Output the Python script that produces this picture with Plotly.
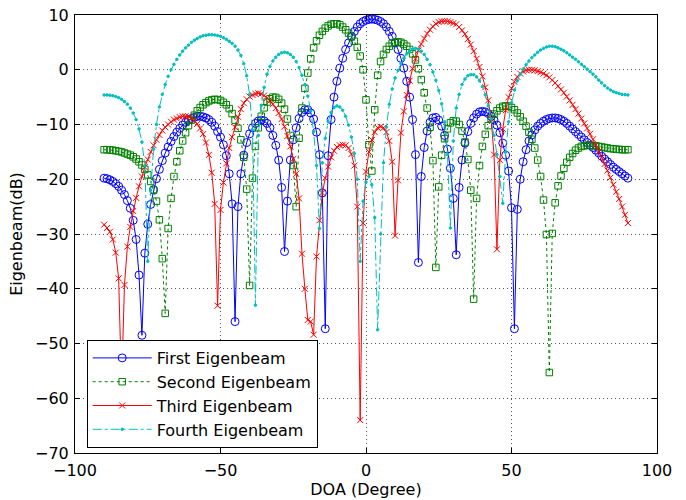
import plotly.graph_objects as go

doa = list(range(-90, 91))

first_eigenbeam = [
    -19.8, -19.9, -20.1, -20.4, -20.8, -21.3, -22.0, -22.8, -23.9, -25.3,
    -27.5, -31.0, -37.5, -48.5, -33.5, -28.2, -24.6, -21.9, -19.9, -18.2,
    -16.6, -15.2, -14.1, -13.1, -12.2, -11.4, -10.7, -10.1, -9.6, -9.2,
    -8.9, -8.7, -8.5, -8.5, -8.6, -8.8, -9.1, -9.6, -10.3, -11.3,
    -12.3, -13.7, -15.7, -19.0, -24.5, -46.0, -25.0, -19.0, -15.6, -13.3,
    -11.7, -10.6, -9.8, -9.35, -9.2, -9.35, -9.8, -10.6, -12.0, -13.8,
    -16.5, -21.5, -33.2, -24.0, -16.5, -12.8, -10.6, -8.9, -7.8, -7.3,
    -7.3, -7.9, -9.0, -11.4, -15.5, -22.5, -47.3, -15.7, -9.1, -5.0,
    -2.1, 0.3, 2.1, 3.7, 4.9, 6.1, 7.0, 7.8, 8.4, 8.8,
    9.05, 9.2, 9.25, 9.2, 9.05, 8.8, 8.4, 7.8, 7.0, 6.1,
    4.9, 3.7, 2.1, 0.3, -2.1, -5.0, -9.1, -15.5, -35.2, -19.5,
    -14.2, -11.2, -9.6, -8.8, -8.7, -9.2, -10.3, -12.0, -14.5, -18.0,
    -23.5, -33.8, -21.5, -16.5, -13.4, -11.3, -9.8, -8.8, -8.1, -7.7,
    -7.6, -7.7, -8.0, -8.5, -9.2, -10.1, -11.5, -13.4, -15.6, -18.5,
    -25.2, -47.3, -25.5, -20.0, -16.8, -14.6, -13.0, -11.9, -11.0, -10.3,
    -9.8, -9.4, -9.1, -8.9, -8.8, -8.8, -8.9, -9.1, -9.4, -9.8,
    -10.3, -10.8, -11.3, -11.8, -12.3, -12.8, -13.3, -13.8, -14.2, -14.7,
    -15.2, -15.8, -16.3, -16.8, -17.3, -17.8, -18.2, -18.6, -19.0, -19.4,
    -19.8,
]

second_eigenbeam = [
    -14.6, -14.6, -14.65, -14.7, -14.8, -14.9, -15.0, -15.2, -15.4, -15.6,
    -15.9, -16.3, -16.8, -17.4, -18.2, -19.2, -20.4, -22.0, -24.0, -27.4,
    -34.5, -44.5, -29.0, -23.5, -19.5, -16.8, -14.8, -13.0, -11.5, -10.2,
    -9.2, -8.3, -7.5, -6.9, -6.4, -6.0, -5.7, -5.5, -5.4, -5.45,
    -5.6, -5.95, -6.4, -7.1, -8.0, -9.2, -10.7, -12.8, -16.0, -21.8,
    -39.4, -19.8, -14.0, -10.6, -8.5, -6.95, -5.9, -5.3, -5.0, -5.05,
    -5.4, -6.1, -7.2, -9.0, -12.0, -17.5, -25.0, -12.5, -7.0, -3.4,
    -0.6, 2.0, 4.0, 5.3, 6.3, 7.0, 7.6, 8.0, 8.3, 8.4,
    8.4, 8.2, 7.8, 7.3, 6.7, 6.0, 5.2, 4.1, 2.5, 0.0,
    -5.5, -13.7, -18.5, -7.3, -1.0, 1.5, 2.8, 3.7, 4.3, 4.8,
    5.0, 5.1, 5.0, 4.7, 4.3, 3.7, 2.9, 1.8, 0.2, -1.8,
    -4.2, -7.0, -10.5, -16.6, -36.1, -21.4, -15.6, -12.6, -10.8, -9.7,
    -9.3, -9.4, -10.0, -11.2, -13.2, -16.4, -22.0, -41.9, -23.5, -17.5,
    -14.0, -11.8, -10.2, -9.0, -8.1, -7.5, -7.0, -6.7, -6.6, -6.65,
    -6.9, -7.3, -7.9, -8.6, -9.4, -10.3, -11.4, -12.7, -14.3, -16.5,
    -19.5, -23.8, -30.1, -55.3, -29.9, -24.3, -21.2, -19.4, -18.0, -16.9,
    -16.0, -15.3, -14.7, -14.3, -14.0, -13.9, -13.8, -13.8, -13.85, -13.9,
    -14.0, -14.1, -14.2, -14.3, -14.4, -14.45, -14.5, -14.55, -14.6, -14.6,
    -14.6,
]

third_eigenbeam = [
    -28.3, -28.9, -29.6, -31.0, -33.4, -38.1, -58.0, -39.3, -32.3, -28.7,
    -25.8, -23.4, -21.3, -19.5, -17.8, -16.4, -15.0, -13.8, -12.8, -11.9,
    -11.1, -10.5, -10.0, -9.5, -9.1, -8.9, -8.65, -8.52, -8.5, -8.56,
    -8.86, -9.3, -9.9, -10.7, -11.75, -13.3, -15.55, -18.8, -24.5, -43.1,
    -25.6, -20.6, -17.1, -14.3, -12.3, -10.5, -8.6, -7.2, -6.1, -5.4,
    -4.9, -4.6, -4.4, -4.3, -4.4, -4.7, -5.2, -5.7, -6.3, -7.0,
    -7.9, -9.0, -10.4, -12.1, -14.0, -16.3, -19.0, -23.5, -33.6, -40.0,
    -45.7, -46.0, -48.4, -34.1, -27.5, -22.5, -19.8, -17.7, -16.0, -14.8,
    -14.1, -13.8, -13.7, -13.8, -14.3, -15.4, -17.5, -25.0, -64.0, -28.0,
    -18.6, -15.0, -12.8, -11.4, -10.6, -10.4, -10.6, -11.4, -13.0, -16.8,
    -30.3, -20.2, -11.5, -7.6, -4.6, -2.0, 0.2, 2.0, 3.5, 4.7,
    5.7, 6.6, 7.3, 7.9, 8.4, 8.7, 8.85, 8.9, 8.85, 8.7,
    8.5, 8.3, 7.8, 7.2, 6.5, 5.6, 4.6, 3.4, 2.0, 0.5,
    -1.2, -3.2, -5.6, -9.0, -15.5, -32.8, -16.5, -10.8, -7.4, -5.0,
    -3.4, -2.2, -1.3, -0.7, -0.3, -0.1, 0.0, 0.0, -0.1, -0.25,
    -0.45, -0.7, -1.0, -1.4, -1.9, -2.4, -3.0, -3.6, -4.2, -4.9,
    -5.6, -6.4, -7.2, -8.0, -8.9, -9.8, -10.7, -11.7, -12.7, -13.8,
    -14.9, -16.0, -17.2, -18.4, -19.7, -21.0, -22.3, -23.6, -25.0, -26.5,
    -28.0,
]

fourth_eigenbeam = [
    -4.6, -4.6, -4.65, -4.75, -4.9, -5.1, -5.4, -5.8, -6.3, -7.0,
    -7.9, -9.1, -10.8, -13.2, -17.5, -35.0, -22.0, -14.5, -10.0, -6.8,
    -4.5, -2.7, -1.2, 0.0, 1.0, 1.9, 2.7, 3.4, 4.0, 4.5,
    5.0, 5.4, 5.7, 6.0, 6.2, 6.3, 6.4, 6.4, 6.35, 6.25,
    6.1, 5.85, 5.55, 5.2, 4.8, 4.3, 3.6, 2.6, 1.1, -1.1,
    -4.5, -11.0, -43.0, -12.0, -6.5, -3.2, -0.8, 0.6, 1.6, 2.3,
    2.8, 3.1, 3.2, 3.1, 2.8, 2.3, 1.5, 0.4, -1.0, -2.7,
    -4.8, -7.5, -11.3, -17.5, -29.0, -17.0, -12.5, -9.5, -7.8, -6.9,
    -6.6, -6.8, -7.4, -8.5, -10.1, -12.3, -15.3, -20.0, -35.0, -24.0,
    -20.5, -19.5, -21.0, -27.0, -47.5, -30.0, -17.0, -10.5, -6.3, -3.5,
    -1.5, -0.1, 1.1, 2.1, 2.9, 3.4, 3.8, 3.9, 3.8, 3.4,
    2.8, 1.9, 0.9, -0.4, -1.9, -3.8, -6.2, -9.5, -15.5, -28.9,
    -13.0, -7.0, -4.5, -2.7, -1.7, -1.1, -0.9, -0.9, -1.3, -2.0,
    -3.1, -4.6, -6.6, -9.0, -12.0, -15.5, -19.5, -24.4, -15.0, -9.5,
    -6.0, -3.7, -2.0, -0.8, 0.1, 0.9, 1.6, 2.2, 2.7, 3.2,
    3.6, 3.9, 4.15, 4.3, 4.3, 4.2, 4.0, 3.75, 3.45, 3.1,
    2.7, 2.3, 1.9, 1.45, 1.0, 0.55, 0.1, -0.35, -0.8, -1.3,
    -1.9, -2.4, -2.9, -3.35, -3.7, -4.0, -4.2, -4.35, -4.5, -4.55,
    -4.6,
]

series_names = ["First Eigenbeam", "Second Eigenbeam", "Third Eigenbeam", "Fourth Eigenbeam"]
x_ticks = [-100, -50, 0, 50, 100]
y_ticks = [-70, -60, -50, -40, -30, -20, -10, 0, 10]

FONT = "DejaVu Sans, Liberation Sans, Arial, sans-serif"
FS = 16

styles = [
    dict(color="#0000FF", dash="solid", symbol="circle-open", size=8, width=1),
    dict(color="#008000", dash="dot", symbol="square-open", size=6.5, width=1),
    dict(color="#FF0000", dash="solid", symbol="x-thin-open", size=6, width=1),
    dict(color="#00BFBF", dash="dashdot", symbol="circle", size=2.5, width=1),
]

fig = go.Figure()
for name, vals, st in zip(series_names,
                          [first_eigenbeam, second_eigenbeam, third_eigenbeam, fourth_eigenbeam],
                          styles):
    fig.add_trace(go.Scatter(
        x=doa, y=vals, mode="lines+markers", name=name,
        line=dict(color=st["color"], width=st["width"], dash=st["dash"]),
        marker=dict(symbol=st["symbol"], size=st["size"], color=st["color"],
                    line=dict(color=st["color"], width=1)),
    ))

axis_common = dict(
    showline=True, linecolor="black", linewidth=1, mirror="ticks",
    ticks="inside", ticklen=5, tickcolor="black", tickwidth=1,
    showgrid=True, gridcolor="#555555", griddash="1px,3px", gridwidth=1,
    zeroline=False, automargin=False,
    tickfont=dict(family=FONT, size=FS, color="black"),
)

fig.update_layout(
    template="none",
    width=686, height=500,
    margin=dict(l=75, r=29, t=15, b=47, pad=0),
    paper_bgcolor="white", plot_bgcolor="white",
    font=dict(family=FONT, size=FS, color="black"),
    xaxis=dict(range=[-100, 100], tickvals=x_ticks, ticklabelstandoff=3,
               title=dict(text="DOA (Degree)", font=dict(family=FONT, size=FS), standoff=1),
               **axis_common),
    yaxis=dict(range=[-70, 10], tickvals=y_ticks, ticklabelstandoff=2,
               title=dict(text="Eigenbeam(dB)", font=dict(family=FONT, size=FS), standoff=8),
               **axis_common),
    legend=dict(x=0.0201, y=0.258, xanchor="left", yanchor="top",
                bgcolor="white", bordercolor="black", borderwidth=1,
                font=dict(family=FONT, size=FS), itemwidth=59),
    showlegend=True,
)

fig.write_html(
    "out.html",
    config={"displayModeBar": False, "staticPlot": True},
    post_script="document.body.style.margin='0';document.body.style.padding='0';"
                "document.documentElement.style.overflow='hidden';",
)
